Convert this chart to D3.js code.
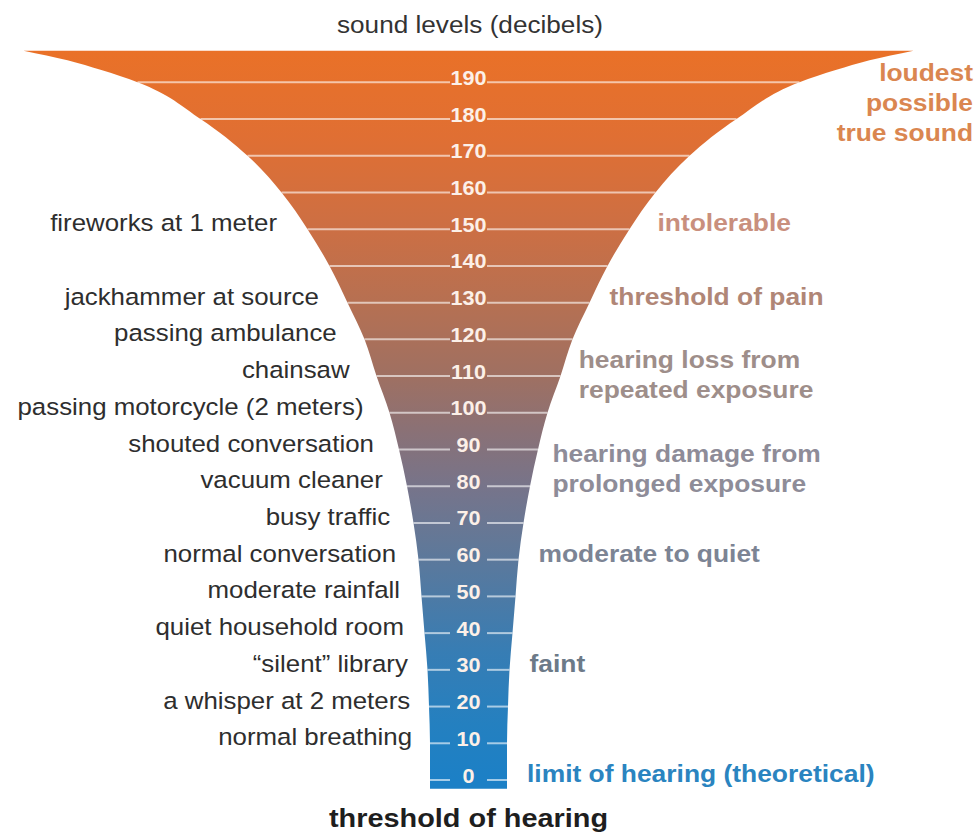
<!DOCTYPE html>
<html>
<head>
<meta charset="utf-8">
<script src="https://cdn.jsdelivr.net/npm/d3@7"></script>
<style>
  body { margin: 0; background: #fff; }
  text { font-family: "Liberation Sans", Arial, Helvetica, sans-serif; }
</style>
</head>
<body>
<script>
// decibel ticks along the funnel
const ticks = d3.range(0, 200, 10);

// funnel outline: half width (px units of the x scale) at each dB level
const funnelDb   = [198.6, 196, 193.4, 190, 180, 170, 160, 150, 140, 130, 120, 110, 100, 90, 80, 70, 60, 50, 40, 30, 20, 10, 0, -2.4];
const funnelHalf = [445, 401, 368, 331, 268, 221, 187, 161, 139, 121, 104, 92, 79, 69.5, 61.5, 55, 50, 47, 44, 41, 39.5, 38.5, 38.5, 38.5];

// everyday sound sources (left side)
const sourceDb = [150, 130, 120, 110, 100, 90, 80, 70, 60, 50, 40, 30, 20, 10];
const sourceNames = [
  "fireworks at 1 meter", "jackhammer at source", "passing ambulance", "chainsaw",
  "passing motorcycle (2 meters)", "shouted conversation", "vacuum cleaner", "busy traffic",
  "normal conversation", "moderate rainfall", "quiet household room", "\u201csilent\u201d library",
  "a whisper at 2 meters", "normal breathing"
];

// effect notes (right side)
const noteDb = [182.7, 150, 130, 108.6, 83, 60, 30, 0];
const noteLines = [
  ["loudest", "possible", "true sound"], ["intolerable"], ["threshold of pain"],
  ["hearing loss from", "repeated exposure"], ["hearing damage from", "prolonged exposure"],
  ["moderate to quiet"], ["faint"], ["limit of hearing (theoretical)"]
];

// styling
const noteColors = ["#DA8650", "#C98F7D", "#B08676", "#9E8E8A", "#8E8C98", "#7C8494", "#6C7A88", "#2A84C0"];
const noteAlign = ["end", "start", "start", "start", "start", "start", "start", "start"];
const gradStops = [[200, "#EA7127"], [175, "#E06F33"], [150, "#CC6F44"], [130, "#B67052"], [110, "#9F7062"],
                   [95, "#8A7176"], [80, "#77748A"], [65, "#637897"], [50, "#4D7AA5"], [35, "#377DB4"],
                   [15, "#2480C0"], [0, "#1C80C6"]];

const W = 980, H = 837, cx = 468.5;

const svg = d3.select("body").append("svg")
  .attr("width", W)
  .attr("height", H)
  .style("background-color", "#fff");

const y = d3.scaleLinear().domain([0, 200]).range([780, 45.6]);
const x = d3.scaleLinear().domain([-450, 450]).range([cx - 450, cx + 450]);
const half = d3.scaleLinear().domain(funnelDb.slice().reverse()).range(funnelHalf.slice().reverse());

// vertical colour ramp
const grad = svg.append("defs").append("linearGradient")
  .attr("id", "funnelGrad")
  .attr("gradientUnits", "userSpaceOnUse")
  .attr("x1", 0).attr("x2", 0)
  .attr("y1", y(200)).attr("y2", y(0));
grad.selectAll("stop").data(gradStops).join("stop")
  .attr("offset", d => (y(d[0]) - y(200)) / (y(0) - y(200)))
  .attr("stop-color", d => d[1]);

// funnel body
const funnel = funnelDb.map((d, i) => ({ db: d, half: funnelHalf[i] }));
const area = d3.area()
  .y(d => y(d.db))
  .x0(d => x(-d.half))
  .x1(d => x(d.half))
  .curve(d3.curveMonotoneY);

svg.append("path")
  .datum(funnel)
  .attr("d", area)
  .attr("fill", "url(#funnelGrad)");

// tick lines either side of the numbers
const tickG = svg.append("g")
  .attr("stroke", "#fff")
  .attr("stroke-opacity", 0.6)
  .attr("stroke-width", 2);

tickG.selectAll("line.left").data(ticks).join("line")
  .attr("class", "left")
  .attr("x1", d => x(-half(d)))
  .attr("x2", cx - 18.5)
  .attr("y1", d => y(d))
  .attr("y2", d => y(d));

tickG.selectAll("line.right").data(ticks).join("line")
  .attr("class", "right")
  .attr("x1", cx + 18.5)
  .attr("x2", d => x(half(d)))
  .attr("y1", d => y(d))
  .attr("y2", d => y(d));

svg.append("g").selectAll("text").data(ticks).join("text")
  .attr("transform", d => `translate(${cx},${y(d) + 2.5}) scale(1.08,1)`)
  .attr("text-anchor", "middle")
  .attr("font-size", "20px")
  .attr("font-weight", "bold")
  .attr("fill", "#FCF0E8")
  .text(d => d);

// sound sources
svg.append("g").selectAll("text").data(sourceDb).join("text")
  .attr("transform", d => `translate(${x(-half(d)) - (17 + d * 0.09)},${y(d) + 2}) scale(1.1,1)`)
  .attr("text-anchor", "end")
  .attr("font-size", "23.5px")
  .attr("fill", "#2E2E2E")
  .text((d, i) => sourceNames[i]);

// notes
const notes = svg.append("g").selectAll("text").data(noteDb).join("text")
  .attr("transform", (d, i) => {
    const tx = noteAlign[i] === "end" ? W - 7 : x(half(d)) + 20 + Math.max(0, d - 130) * 0.4;
    const ty = y(d) + 2 - (noteLines[i].length - 1) * 15;
    return `translate(${tx},${ty}) scale(1.1,1)`;
  })
  .attr("text-anchor", (d, i) => noteAlign[i])
  .attr("font-size", "24px")
  .attr("font-weight", "bold")
  .attr("fill", (d, i) => noteColors[i]);

notes.selectAll("tspan").data((d, i) => noteLines[i]).join("tspan")
  .attr("x", 0)
  .attr("y", (d, j) => j * 30)
  .text(d => d);

// titles
svg.append("text")
  .attr("transform", `translate(${cx + 1.5},33) scale(1.09,1)`)
  .attr("text-anchor", "middle")
  .attr("font-size", "24px")
  .attr("fill", "#333")
  .text("sound levels (decibels)");

svg.append("text")
  .attr("transform", `translate(${cx},827) scale(1.09,1)`)
  .attr("text-anchor", "middle")
  .attr("font-size", "26.5px")
  .attr("font-weight", "bold")
  .attr("fill", "#1E1E1E")
  .text("threshold of hearing");
</script>
</body>
</html>
